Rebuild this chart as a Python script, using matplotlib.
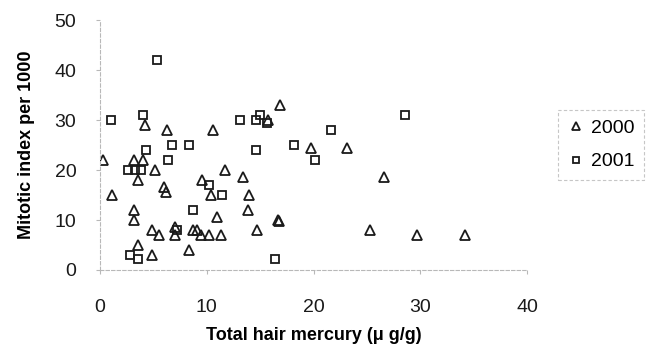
import matplotlib
matplotlib.use("Agg")
import matplotlib.pyplot as plt

plt.rcParams["font.family"] = ["Liberation Sans", "DejaVu Sans"]

# 2000 survey (triangles)
hg_2000 = [0.3, 1.1, 3.2, 4.0, 4.2, 3.6, 5.2, 3.2, 3.2, 3.6, 4.9, 4.9, 5.5,
           6.3, 6.0, 6.2, 7.0, 7.0, 8.3, 8.7, 9.1, 9.5, 10.2, 9.6, 10.4,
           10.6, 11.7, 11.0, 11.3, 13.4, 14.0, 13.9, 14.7, 16.7, 16.8, 16.9,
           15.7, 19.8, 23.1, 26.6, 25.3, 29.7, 34.2]
mi_2000 = [22, 15, 22, 22, 29, 18, 20, 12, 10, 5, 3, 8, 7,
           28, 16.6, 15.7, 8.7, 7, 4, 8, 8, 7, 7, 18, 15,
           28, 20, 10.7, 7, 18.6, 15, 12, 8, 10, 9.8, 33,
           30, 24.5, 24.5, 18.6, 8, 7, 7]

# 2001 survey (squares)
hg_2001 = [5.3, 1.0, 4.0, 4.3, 2.6, 3.3, 3.8, 6.4, 6.7, 8.3, 2.8, 3.6, 7.2,
           8.7, 10.2, 11.4, 13.1, 14.6, 15.0, 15.6, 14.6, 18.2, 20.1, 21.6,
           16.4, 28.6]
mi_2001 = [42, 30, 31, 24, 20, 20, 20, 22, 25, 25, 3, 2.2, 8,
           12, 17, 15, 30, 30, 31, 29.5, 24, 25, 22, 28,
           2.2, 31]

fig = plt.figure(figsize=(6.56, 3.6), dpi=100)
ax = fig.add_axes([0.1524, 0.25, 0.651, 0.694])

ax.plot(hg_2000, mi_2000, ls="none", marker="^", ms=7.5, mfc="none",
        mec="#1a1a1a", mew=1.3, label="2000")
ax.plot(hg_2001, mi_2001, ls="none", marker="s", ms=6, mfc="none",
        mec="#1a1a1a", mew=1.3, label="2001")

ax.set_xlim(0, 40)
ax.set_ylim(0, 50)
ax.set_xticks([0, 10, 20, 30, 40])
ax.set_yticks([0, 10, 20, 30, 40, 50])

for side in ("top", "right"):
    ax.spines[side].set_visible(False)
for side in ("left", "bottom"):
    ax.spines[side].set_color("#b8b8b8")
    ax.spines[side].set_linewidth(0.8)
    ax.spines[side].set_linestyle((0, (3, 2)))

ax.tick_params(axis="both", colors="#b8b8b8", labelcolor="#1a1a1a",
               labelsize=14, length=3, width=0.8)
ax.tick_params(axis="x", pad=18)
ax.tick_params(axis="y", pad=14)

ax.set_xlabel("Total hair mercury (\u03bc g/g)", fontsize=13,
              fontweight="bold", labelpad=8)
ax.set_ylabel("Mitotic index per 1000", fontsize=13, fontweight="bold",
              labelpad=14)

leg = ax.legend(loc="center left", bbox_to_anchor=(1.05, 0.5),
                fontsize=14, frameon=True, fancybox=False, markerscale=0.7,
                handlelength=0.8, handletextpad=0.4, borderpad=0.5,
                labelspacing=0.8)
frame = leg.get_frame()
frame.set_edgecolor("#b8b8b8")
frame.set_linewidth(0.8)
frame.set_linestyle((0, (3, 2)))

fig.savefig("out.png", dpi=100)
